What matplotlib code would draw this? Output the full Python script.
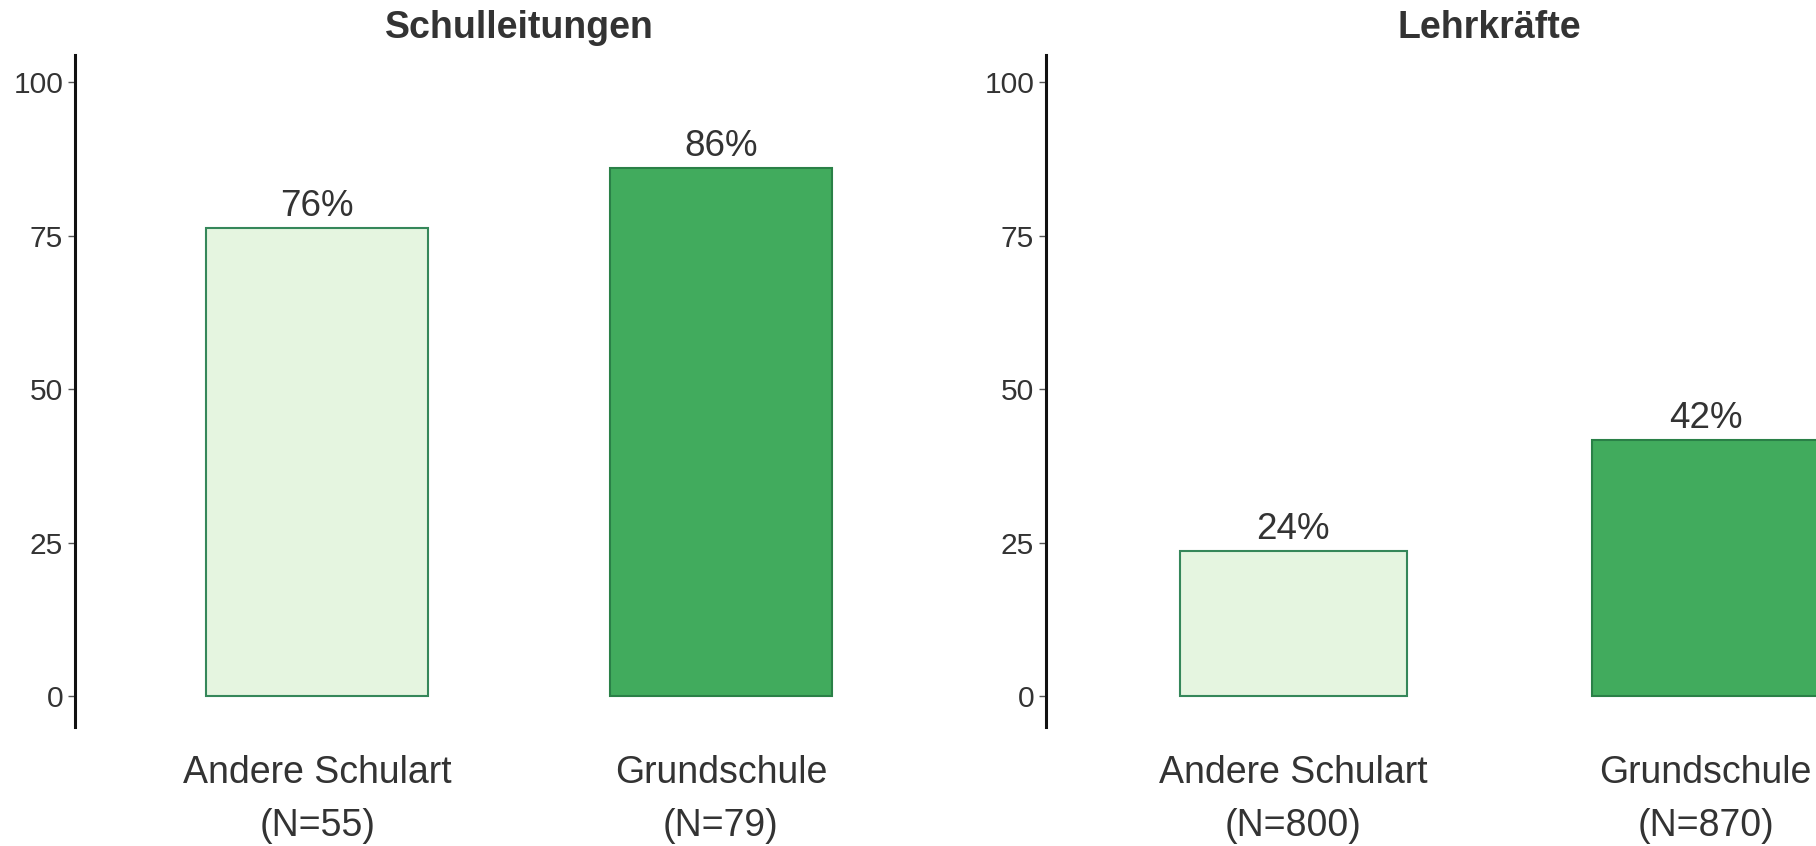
import matplotlib
matplotlib.use("Agg")
import matplotlib.pyplot as plt

plt.rcParams["font.family"] = ["Liberation Sans", "DejaVu Sans"]

# ── data ──────────────────────────────────────────────────────────────
categories = ["Andere Schulart", "Grundschule"]
panel_titles = ["Schulleitungen", "Lehrkräfte"]
n_leitungen = [55, 79]
n_lehrkraefte = [800, 870]
pct_leitungen = [76.3, 86.0]
pct_lehrkraefte = [23.6, 41.7]
yticks = [0, 25, 50, 75, 100]

fill_colors = ["#e5f5e0", "#41ab5d"]
edge_colors = ["#35875a", "#2a8047"]
text_color = "#333333"

W, H = 1816, 846
fig = plt.figure(figsize=(W / 100, H / 100), dpi=100)

# axes boxes in pixels (left, right); the right panel runs past the figure edge
y_bot, y_top = 846 - 726.7, 846 - 55
boxes = [(75, 963), (1046, 1953)]
title_x = [519, 1489]

panels = [
    (pct_leitungen, n_leitungen),
    (pct_lehrkraefte, n_lehrkraefte),
]

for (x0, x1), tx, title, (vals, ns) in zip(boxes, title_x, panel_titles, panels):
    ax = fig.add_axes([x0 / W, y_bot / H, (x1 - x0) / W, (y_top - y_bot) / H])
    xs = [1, 2]
    ax.bar(xs, vals, width=0.55, color=fill_colors, edgecolor=edge_colors,
           linewidth=1.5)
    for x, v in zip(xs, vals):
        ax.annotate(f"{round(v)}%", (x, v), xytext=(0, 8.6),
                    textcoords="offset points", ha="center", va="baseline",
                    fontsize=26.5, color=text_color)

    ax.set_xlim(0.4, 2.6)
    ax.set_ylim(-5, 104.4)
    ax.set_yticks(yticks)
    ax.set_xticks(xs)
    ax.set_xticklabels([f"{c}\n(N={n})" for c, n in zip(categories, ns)],
                       linespacing=1.6)

    for s in ["top", "right", "bottom"]:
        ax.spines[s].set_visible(False)
    ax.spines["left"].set_linewidth(2.2)
    ax.spines["left"].set_color("#111111")

    ax.tick_params(axis="x", length=0, pad=20.5, labelsize=27,
                   labelcolor=text_color)
    ax.tick_params(axis="y", length=5, width=1, color="#555555", pad=3.5,
                   labelsize=21.6, labelcolor=text_color)

    fig.text(tx / W, 1 - 38 / H, title, ha="center",
             va="baseline", fontsize=27, fontweight="bold", color=text_color)

fig.savefig("out.png", dpi=100)
